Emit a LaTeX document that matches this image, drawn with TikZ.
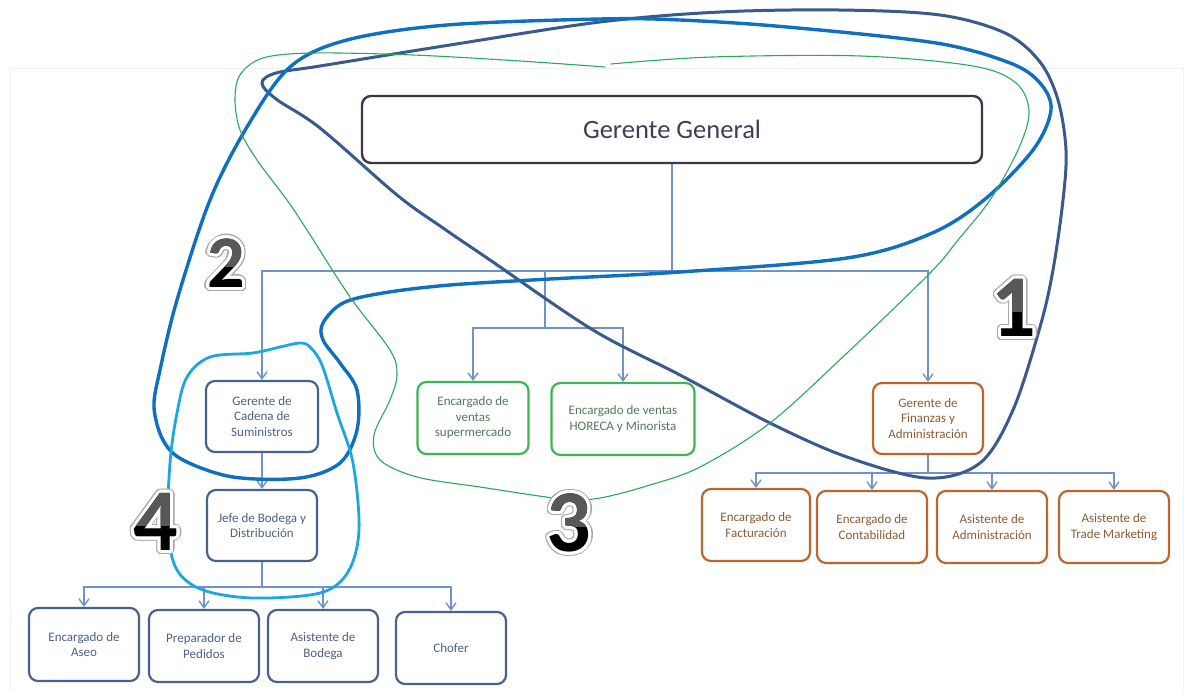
\documentclass[tikz,border=0pt]{standalone}
\usepackage{fontspec}
\setmainfont{Carlito}
\usetikzlibrary{arrows.meta,calc}

% palette
\definecolor{connline}{RGB}{112,146,200}
\definecolor{ggborder}{RGB}{62,52,80}
\definecolor{ggtext}{RGB}{70,58,88}
\definecolor{boxblue}{RGB}{72,98,142}
\definecolor{txtblue}{RGB}{78,98,132}
\definecolor{boxgreen}{RGB}{62,180,84}
\definecolor{txtgreen}{RGB}{82,122,92}
\definecolor{boxorange}{RGB}{186,102,46}
\definecolor{txtorange}{RGB}{142,92,52}
\definecolor{lassonavy}{RGB}{58,90,142}
\definecolor{lassoblue}{RGB}{14,112,190}
\definecolor{lassogreen}{RGB}{40,170,90}
\definecolor{lassocyan}{RGB}{30,166,224}
\definecolor{halogray}{RGB}{170,170,170}
\definecolor{digittop}{RGB}{88,88,88}

\tikzset{
  x=1pt, y=-1pt,
  unitbox/.style={draw, rounded corners=9pt, line width=2.2pt, fill=white,
    align=center, inner sep=2pt, font=\fontsize{13}{15.5}\selectfont},
  bluebox/.style={unitbox, draw=boxblue, text=txtblue},
  greenbox/.style={unitbox, draw=boxgreen, text=txtgreen},
  orangebox/.style={unitbox, draw=boxorange, text=txtorange},
  sz/.style 2 args={minimum width=#1pt, minimum height=#2pt},
  conn/.style={draw=connline, line width=1.4pt},
  connarrow/.style={conn, -{Straight Barb[length=7pt,width=10pt]}},
  lasso/.style={line cap=round, line join=round},
  digitglyph/.style={inner sep=0pt, font=\fontsize{#1}{#1}\selectfont\bfseries},
}

% a large numeral with a white ring, a grey rim and a darker upper half
\newcommand{\labeldigit}[4]{%
  \foreach \ang in {0,15,...,345}
    \node[digitglyph=#3, text=halogray] at ($(#2)+(\ang:4.4)$) {#4};
  \foreach \ang in {0,15,...,345}
    \node[digitglyph=#3, text=white] at ($(#2)+(\ang:3.0)$) {#4};
  \node[digitglyph=#3, text=black] (#1) at (#2) {#4};
  \begin{scope}
    \clip ($(#1.north west)+(-6,-6)$) rectangle ($(#1.east)+(6,3)$);
    \node[digitglyph=#3, text=digittop] at (#2) {#4};
  \end{scope}
}

\begin{document}
\begin{tikzpicture}
\useasboundingbox (0,0) rectangle (1186,694);
\fill[white] (0,0) rectangle (1186,694);
\draw[black!5, line width=0.8pt] (10,694) -- (10,68) -- (1183,68) -- (1183,694);

% ---------- boxes ----------
\node[draw=ggborder, rounded corners=9pt, line width=2.4pt, fill=white,
      text=ggtext, font=\fontsize{26.5}{30}\selectfont, sz={620}{67}]
      (gg) at (672,129.5) {Gerente General};

\node[bluebox, sz={112}{71}] (gcs) at (262,416.5) {Gerente de\\Cadena de\\Suministros};
\node[bluebox, sz={110}{71}] (jbd) at (262,525.5) {Jefe de Bodega y\\Distribución};
\node[bluebox, sz={110}{73}] (aseo) at (84,644.5) {Encargado de\\Aseo};
\node[bluebox, sz={110}{72}] (ped) at (204,646) {Preparador de\\Pedidos};
\node[bluebox, sz={110}{72}] (abod) at (323,646) {Asistente de\\Bodega};
\node[bluebox, sz={110}{72}] (chof) at (451,648) {Chofer};

\node[greenbox, sz={111}{72}] (vsup) at (473,418) {Encargado de\\ventas\\supermercado};
\node[greenbox, sz={143}{72}] (vhor) at (623,419) {Encargado de ventas\\HORECA y Minorista};

\node[orangebox, sz={110}{71}] (fin) at (928,418.5) {Gerente de\\Finanzas y\\Administración};
\node[orangebox, sz={108}{72}] (fact) at (756,525) {Encargado de\\Facturación};
\node[orangebox, sz={110}{72}] (cont) at (872,527) {Encargado de\\Contabilidad};
\node[orangebox, sz={110}{72}] (adm) at (992,527) {Asistente de\\Administración};
\node[orangebox, sz={110}{72}] (trade) at (1114,527) {Asistente de\\Trade Marketing};

% ---------- connectors ----------
\coordinate (busTop) at (672,271);
\coordinate (busMidA) at (545,271);
\coordinate (busMidB) at (545,328);
\coordinate (busBod) at (262,587);
\coordinate (busFin) at (928,473);

\draw[conn] (gg.south) -- (busTop);
\draw[connarrow] (busTop) -| (gcs.north);
\draw[connarrow] (busTop) -| (fin.north);
\draw[conn] (busMidA) -- (busMidB);
\draw[connarrow] (busMidB) -| (vsup.north);
\draw[connarrow] (busMidB) -| (vhor.north);

\draw[connarrow] (gcs.south) -- (jbd.north);
\draw[conn] (jbd.south) -- (busBod);
\foreach \t in {aseo,ped,abod,chof}
  \draw[connarrow] (busBod) -| (\t.north);

\draw[conn] (fin.south) -- (busFin);
\foreach \t in {fact,cont,adm,trade}
  \draw[connarrow] (busFin) -| (\t.north);

% ---------- hand-drawn groupings ----------
% group 1
\draw[lasso, lassonavy, line width=3pt] plot[smooth cycle, tension=0.55] coordinates {
  (262,83) (276,99) (320,128) (397,195) (443,228) (490,260) (593,330)
  (680,375) (770,423) (847,457) (927,478) (980,463) (1013,410) (1040,327)
  (1053,270) (1063,200) (1066,150) (1058,100) (1040,62) (1005,33) (940,15)
  (839,10) (720,12) (600,22) (450,45) (320,66) (276,73)};

% group 2
\draw[lasso, lassoblue, line width=3.4pt] plot[smooth cycle, tension=0.55] coordinates {
  (600,19) (447,25) (347,40) (290,67) (247,127) (210,200) (177,300)
  (160,370) (154,407) (163,440) (183,460) (233,477) (300,478) (340,463)
  (357,430) (357,390) (340,363) (323,340) (323,323) (343,303) (383,293)
  (450,285) (550,279) (680,272) (847,258) (930,234) (984,200) (1033,150)
  (1051,110) (1040,83) (1010,63) (936,43) (787,27) (680,20)};

% group 3
\draw[lasso, lassogreen, line width=1.1pt] plot[smooth, tension=0.55] coordinates {
  (611,64) (712,57) (861,56) (973,66) (1016,83) (1029,112) (1018,150)
  (990,200) (958,240) (930,273) (847,353) (770,423) (700,467) (650,485)
  (600,498) (563,499) (480,487) (417,477) (380,460) (374,435) (390,400)
  (397,375) (390,350) (350,297) (307,230) (287,200) (257,160) (240,130)
  (235,100) (240,75) (263,58) (313,53) (413,55) (520,61) (605,67)};

% group 4
\draw[lasso, lassocyan, line width=2.8pt] plot[smooth cycle, tension=0.55] coordinates {
  (300,343) (280,347) (253,353) (210,357) (187,377) (177,413) (170,463)
  (168,530) (177,570) (203,590) (253,598) (320,593) (348,572) (359,530)
  (353,463) (337,413) (322,365) (310,347)};

% ---------- group numbers ----------
\labeldigit{num2}{226,263}{74}{2}
\labeldigit{num1}{1014,308}{88}{1}
\labeldigit{num3}{569,523}{88}{3}
\labeldigit{num4}{156,522}{88}{4}

\end{tikzpicture}
\end{document}
